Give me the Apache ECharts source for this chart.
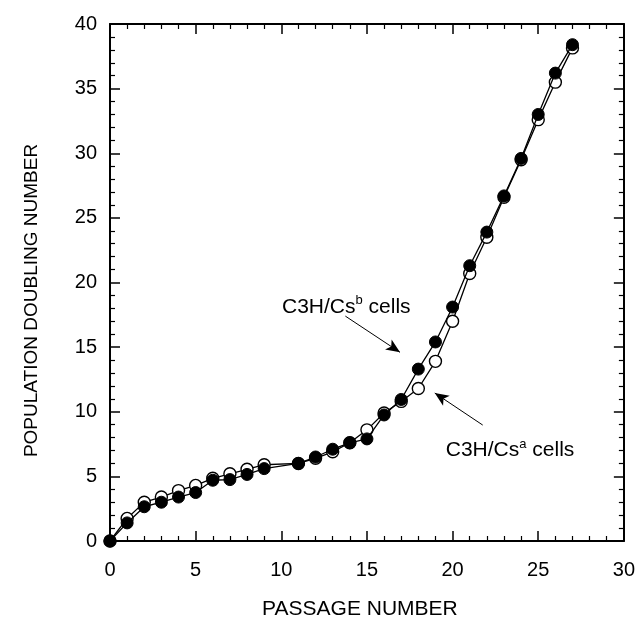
<!DOCTYPE html>
<html>
<head>
<meta charset="utf-8">
<script src="https://cdn.jsdelivr.net/npm/echarts@6/dist/echarts.min.js"></script>
<style>
html,body{margin:0;padding:0;background:#fff;}
#c{width:638px;height:619px;}
</style>
</head>
<body>
<div id="c"></div>
<script>
// ---- data ----
const passage = [0,1,2,3,4,5,6,7,8,9,11,12,13,14,15,16,17,18,19,20,21,22,23,24,25,26,27];
const csB = [0,1.4,2.65,3.0,3.4,3.75,4.7,4.75,5.15,5.6,6.0,6.5,7.1,7.6,7.9,9.75,10.95,13.3,15.4,18.1,21.3,23.9,26.7,29.6,33.0,36.2,38.4];
const csA = [0,1.75,3.0,3.4,3.9,4.3,4.85,5.2,5.55,5.9,6.0,6.4,6.9,7.6,8.6,9.9,10.8,11.8,13.9,17.0,20.7,23.5,26.6,29.5,32.6,35.5,38.15];
const xTickLabels = [0,5,10,15,20,25,30];
const yTickLabels = [0,5,10,15,20,25,30,35,40];
const xTitle = 'PASSAGE NUMBER';
const yTitle = 'POPULATION DOUBLING NUMBER';
// annotation anchors (data coordinates)
const labelB = {x:10.04, y:18.1, base:'C3H/Cs', sup:'b', tail:' cells'};
const labelA = {x:19.6, y:7.0, base:'C3H/Cs', sup:'a', tail:' cells'};
const arrowB = [[13.74,17.4],[16.93,14.6]];
const arrowA = [[21.76,8.97],[18.96,11.45]];

const FONT = '"Liberation Sans", Arial, Helvetica, sans-serif';
const chart = echarts.init(document.getElementById('c'), null, {renderer:'canvas'});

function axisCommon(show) {
  return {
    min: 0,
    interval: 5,
    axisLine: {show:true, onZero:false, lineStyle:{color:'#000', width:2}},
    axisTick: {show:true, inside:true, length:10, lineStyle:{color:'#000', width:1.5}},
    minorTick: {show:true, splitNumber:5, length:5, lineStyle:{color:'#000', width:1.2}},
    splitLine: {show:false},
    axisLabel: {show:show, color:'#000', fontSize:20, fontFamily:FONT},
  };
}

const xBottom = Object.assign(axisCommon(true), {type:'value', position:'bottom', max:30});
xBottom.axisLabel.margin = 19;
xBottom.axisLabel.formatter = v => xTickLabels.includes(v) ? String(v) : '';
const xTop = Object.assign(axisCommon(false), {type:'value', position:'top', max:30});
const yLeft = Object.assign(axisCommon(true), {type:'value', position:'left', max:40});
yLeft.axisLabel.margin = 13;
yLeft.axisLabel.formatter = v => yTickLabels.includes(v) ? String(v) : '';
const yRight = Object.assign(axisCommon(false), {type:'value', position:'right', max:40});

const dataA = passage.map((p,i)=>[p, csA[i]]);
const dataB = passage.map((p,i)=>[p, csB[i]]);

chart.setOption({
  animation:false,
  backgroundColor:'#fff',
  grid:{left:110, right:11, top:24, bottom:78},
  xAxis:[xBottom, xTop],
  yAxis:[yLeft, yRight],
  series:[
    {
      name:'C3H/Csa', type:'line', data:dataA, xAxisIndex:0, yAxisIndex:0,
      symbol:'circle', symbolSize:12, showAllSymbol:true,
      lineStyle:{color:'#000', width:1.3},
      itemStyle:{color:'#fff', borderColor:'#000', borderWidth:1.4},
      z:2,
    },
    {
      name:'C3H/Csb', type:'line', data:dataB, xAxisIndex:0, yAxisIndex:0,
      symbol:'circle', symbolSize:12, showAllSymbol:true,
      lineStyle:{color:'#000', width:1.3},
      itemStyle:{color:'#000', borderColor:'#000', borderWidth:1},
      z:3,
      markLine:{
        silent:true, symbol:['none','arrow'], symbolSize:[9,14],
        lineStyle:{color:'#000', width:1, type:'solid'},
        label:{show:false},
        data:[
          [{coord:arrowB[0]},{coord:arrowB[1]}],
          [{coord:arrowA[0]},{coord:arrowA[1]}],
        ],
      },
    },
  ],
});

function makeLabel(l) {
  const p = chart.convertToPixel({gridIndex:0}, [l.x, l.y]);
  return {
    type:'text', x:p[0], y:p[1], z:10,
    style:{
      text:'{n|'+l.base+'}{s|'+l.sup+'}{n|'+l.tail+'}',
      verticalAlign:'middle', align:'left',
      rich:{
        n:{fontSize:21, fontFamily:FONT, fill:'#000', lineHeight:26},
        s:{fontSize:13, fontFamily:FONT, fill:'#000', verticalAlign:'top', lineHeight:26, padding:[0,0,11,0]},
      },
    },
  };
}
// axis titles placed relative to the grid
const gridRect = chart.getModel().getComponent('grid', 0).coordinateSystem.getRect();
const xTitleEl = {
  type:'text', z:10,
  x: gridRect.x + gridRect.width/2 - 7, y: gridRect.y + gridRect.height + 68,
  style:{text:xTitle, fontSize:21, fontFamily:FONT, fill:'#000', align:'center', verticalAlign:'middle'},
};
const yTitleEl = {
  type:'text', z:10, rotation:Math.PI/2,
  x: 32, y: gridRect.y + gridRect.height/2 + 18,
  style:{text:yTitle, fontSize:19, fontFamily:FONT, fill:'#000', align:'center', verticalAlign:'middle'},
};
chart.setOption({graphic:[makeLabel(labelB), makeLabel(labelA), xTitleEl, yTitleEl]});
</script>
</body>
</html>
